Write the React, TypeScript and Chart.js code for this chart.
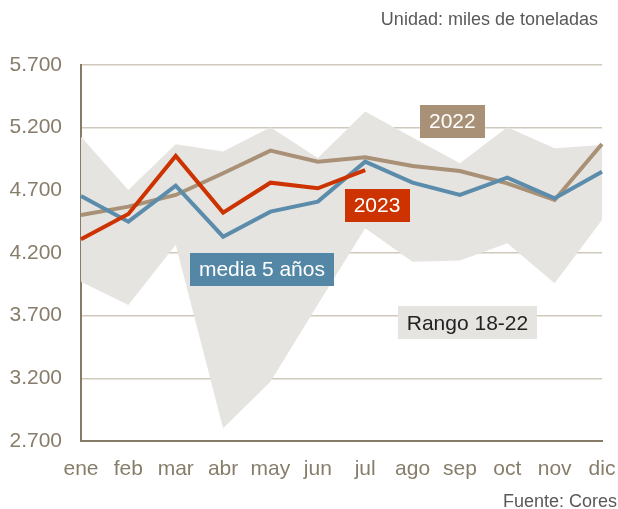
import { useEffect, useRef } from "react";
import { Chart, registerables } from "chart.js";

Chart.register(...registerables);

const months = ["ene", "feb", "mar", "abr", "may", "jun", "jul", "ago", "sep", "oct", "nov", "dic"];
const rangeMax = [5128, 4703, 5067, 5009, 5203, 4958, 5328, 5122, 4916, 5203, 5035, 5062];
const rangeMin = [3971, 3785, 4265, 2801, 3173, 3790, 4397, 4131, 4140, 4277, 3958, 4463];
const media5 = [4655, 4450, 4737, 4330, 4530, 4610, 4929, 4761, 4663, 4801, 4636, 4849];
const y2022 = [4503, 4570, 4663, 4836, 5017, 4929, 4963, 4894, 4854, 4756, 4623, 5070];
const y2023 = [4309, 4511, 4974, 4522, 4761, 4716, 4862, null, null, null, null, null];
const yMin = 2700;
const yMax = 5700;
const yStep = 500;

const FONT = "'Liberation Sans', Arial, sans-serif";
const TAN = "#a89177";
const BLUE = "#5b8cab";
const RED = "#cc3300";
const BAND = "#e6e4e0";
const AXIS_TEXT = "#877d6b";

// label anchors in data units: category index (fractional) and value
const boxLabels = [
  { text: "2022", xi: 7.84, yv: 5249, bg: TAN, fg: "#ffffff" },
  { text: "2023", xi: 6.25, yv: 4579, bg: RED, fg: "#ffffff" },
  { text: "media 5 años", xi: 3.82, yv: 4072, bg: "#5487a6", fg: "#ffffff" },
  { text: "Rango 18-22", xi: 8.16, yv: 3642, bg: BAND, fg: "#222222" },
];

const fmt = (v: number) => {
  const s = String(Math.round(v));
  return s.length > 3 ? s.slice(0, s.length - 3) + "." + s.slice(s.length - 3) : s;
};

const labelPlugin = {
  id: "boxLabels",
  afterDatasetsDraw(chart: any) {
    const { ctx, scales } = chart;
    const x = scales.x;
    const y = scales.y;
    ctx.save();
    ctx.font = `21px ${FONT}`;
    ctx.textBaseline = "middle";
    ctx.textAlign = "center";
    for (const l of boxLabels) {
      const cx = x.getPixelForValue(l.xi);
      const cy = y.getPixelForValue(l.yv);
      const w = ctx.measureText(l.text).width + 18;
      const h = 33;
      ctx.fillStyle = l.bg;
      ctx.fillRect(Math.round(cx - w / 2), Math.round(cy - h / 2), Math.round(w), h);
      ctx.fillStyle = l.fg;
      ctx.fillText(l.text, cx, cy + 1);
    }
    ctx.restore();
  },
  afterDraw(chart: any) {
    const { ctx } = chart;
    ctx.save();
    ctx.font = `18px ${FONT}`;
    ctx.fillStyle = "#595959";
    ctx.textAlign = "right";
    ctx.textBaseline = "middle";
    ctx.fillText("Unidad: miles de toneladas", 598, 20);
    ctx.fillText("Fuente: Cores", 617, 502);
    ctx.restore();
  },
};

export default function App() {
  const ref = useRef<HTMLCanvasElement | null>(null);
  useEffect(() => {
    if (!ref.current) return;
    const chart = new Chart(ref.current, {
      type: "line",
      data: {
        labels: months,
        datasets: [
          {
            label: "2023",
            data: y2023,
            borderColor: RED,
            borderWidth: 4,
            pointRadius: 0,
            tension: 0,
            fill: false,
            order: 1,
          },
          {
            label: "media 5 años",
            data: media5,
            borderColor: BLUE,
            borderWidth: 4,
            pointRadius: 0,
            tension: 0,
            fill: false,
            order: 2,
          },
          {
            label: "2022",
            data: y2022,
            borderColor: TAN,
            borderWidth: 4,
            pointRadius: 0,
            tension: 0,
            fill: false,
            order: 3,
          },
          {
            label: "max",
            data: rangeMax,
            borderWidth: 0,
            borderColor: "rgba(0,0,0,0)",
            backgroundColor: BAND,
            pointRadius: 0,
            tension: 0,
            fill: "+1",
            order: 10,
          },
          {
            label: "min",
            data: rangeMin,
            borderWidth: 0,
            borderColor: "rgba(0,0,0,0)",
            pointRadius: 0,
            tension: 0,
            fill: false,
            order: 11,
          },
        ],
      },
      options: {
        responsive: false,
        animation: false,
        devicePixelRatio: 1,
        layout: { padding: { top: 65, right: 16, left: 0, bottom: 0 } },
        plugins: {
          legend: { display: false },
          tooltip: { enabled: false },
          title: { display: false },
        },
        scales: {
          x: {
            type: "category",
            offset: false,
            grid: { display: false, drawTicks: false },
            border: { color: "#867b66", width: 2 },
            ticks: {
              color: AXIS_TEXT,
              font: { size: 21, family: FONT },
              padding: 16,
              autoSkip: false,
              maxRotation: 0,
            },
            afterFit: (s: any) => {
              s.height = 68;
              s.paddingLeft = 0;
              s.paddingRight = 0;
            },
          },
          y: {
            min: yMin,
            max: yMax,
            grid: { color: "#cfc9bd", lineWidth: 1.5, drawTicks: false },
            border: { color: "#867b66", width: 2 },
            ticks: {
              stepSize: yStep,
              color: AXIS_TEXT,
              font: { size: 21, family: FONT },
              padding: 19,
              callback: (v: any) => fmt(Number(v)),
            },
            afterFit: (s: any) => {
              s.width = 81;
              s.paddingTop = 0;
              s.paddingBottom = 0;
            },
          },
        },
      },
      plugins: [labelPlugin],
    });
    return () => chart.destroy();
  }, []);
  return (
    <div style={{ position: "absolute", left: 0, top: 0, width: 618, height: 509, background: "#fff" }}>
      <canvas ref={ref} width={618} height={509} style={{ display: "block" }} />
    </div>
  );
}
